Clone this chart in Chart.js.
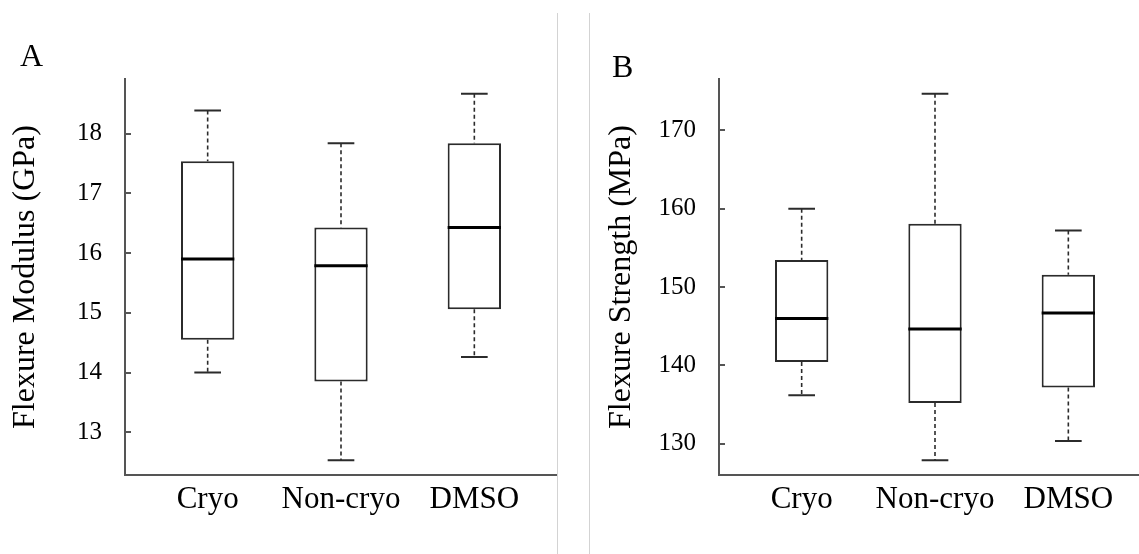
<!DOCTYPE html>
<html>
<head>
<meta charset="utf-8">
<script src="https://cdn.jsdelivr.net/npm/chart.js@4.4.0/dist/chart.umd.min.js"></script>
<style>
html, body { margin: 0; padding: 0; background: #fff; overflow: hidden; width: 1139px; height: 554px; }
.panel { position: absolute; top: 0; }
.tag { position: absolute; font-family: "Liberation Serif", serif; font-size: 32px; line-height: 1; color: #000; }
.sep { position: absolute; top: 13px; width: 1px; height: 541px; background: #d3d3d3; }
</style>
</head>
<body>
<div class="sep" style="left:557px"></div>
<div class="sep" style="left:589px"></div>
<canvas id="chartA" class="panel" style="left:0px" width="557" height="554"></canvas>
<canvas id="chartB" class="panel" style="left:589px" width="562" height="554"></canvas>
<div class="tag" style="left:20px; top:39px">A</div>
<div class="tag" style="left:612px; top:50px">B</div>
<script>
var categories = ['Cryo', 'Non-cryo', 'DMSO'];

// panel A - flexure modulus (GPa)
var modulusTicks = [13, 14, 15, 16, 17, 18];
var modulusLow = [14.0, 12.53, 14.26];
var modulusQ1 = [14.55, 13.85, 15.06];
var modulusMed = [15.9, 15.79, 16.43];
var modulusQ3 = [17.54, 16.43, 17.84];
var modulusHigh = [18.39, 17.84, 18.67];

// panel B - flexure strength (MPa)
var strengthTicks = [130, 140, 150, 160, 170];
var strengthLow = [136.16, 127.86, 130.33];
var strengthQ1 = [140.42, 135.18, 137.15];
var strengthMed = [145.98, 144.63, 146.68];
var strengthQ3 = [153.45, 158.08, 151.57];
var strengthHigh = [160.0, 174.7, 157.23];

Chart.defaults.font.family = '"Liberation Serif", "Times New Roman", serif';
Chart.defaults.color = '#000';

function gap() { return {x: null, y: null}; }

function boxChart(id, low, q1, med, q3, high, yTicks, yTitle, axisWidth, titlePad) {
  var boxes = [], whiskers = [], caps = [], medians = [];
  for (var i = 0; i < categories.length; i++) {
    var c = i + 1;
    boxes.push({x: c, y: [q1[i], q3[i]]});
    whiskers.push({x: c, y: high[i]}, {x: c, y: q3[i]}, gap(), {x: c, y: q1[i]}, {x: c, y: low[i]}, gap());
    caps.push({x: c - 0.1, y: high[i]}, {x: c + 0.1, y: high[i]}, gap(),
              {x: c - 0.1, y: low[i]}, {x: c + 0.1, y: low[i]}, gap());
    medians.push({x: c - 0.2, y: med[i]}, {x: c + 0.2, y: med[i]}, gap());
  }
  // y range like R: data range plus 4% on each side
  var all = low.concat(high);
  var lo = Math.min.apply(null, all), hi = Math.max.apply(null, all);
  var pad = (hi - lo) * 0.04;

  return new Chart(document.getElementById(id), {
    type: 'bar',
    data: {
      datasets: [{
        type: 'line', data: medians, order: 0,
        borderColor: '#000', borderWidth: 3, pointRadius: 0, spanGaps: false
      }, {
        type: 'line', data: caps, order: 1,
        borderColor: '#2b2b2b', borderWidth: 2, pointRadius: 0, spanGaps: false
      }, {
        type: 'line', data: whiskers, order: 2,
        borderColor: '#2b2b2b', borderWidth: 1.6, borderDash: [4, 3], pointRadius: 0, spanGaps: false
      }, {
        type: 'bar', data: boxes, order: 3,
        backgroundColor: '#fff', borderColor: '#2b2b2b', borderWidth: 2, borderSkipped: false,
        barPercentage: 0.4, categoryPercentage: 1
      }]
    },
    options: {
      responsive: false,
      animation: false,
      events: [],
      layout: { padding: { top: 79, left: 0, right: 0, bottom: 0 } },
      plugins: { legend: { display: false }, tooltip: { enabled: false } },
      scales: {
        x: {
          type: 'linear', min: 0.38, max: 3.62, offset: false,
          afterBuildTicks: function(s) {
            s.ticks = categories.map(function(_, i) { return {value: i + 1}; });
          },
          afterFit: function(s) { s.height = 79; },
          grid: { display: false, drawTicks: false },
          border: { display: true, color: '#555', width: 2 },
          ticks: {
            padding: 6, font: { size: 31 }, color: '#000', maxRotation: 0, autoSkip: false,
            callback: function(v) { return categories[Math.round(v) - 1]; }
          }
        },
        y: {
          min: lo - pad, max: hi + pad,
          afterBuildTicks: function(s) {
            s.ticks = yTicks.map(function(v) { return {value: v}; });
          },
          afterFit: function(s) { s.width = axisWidth; },
          grid: { drawOnChartArea: false, tickLength: -6, color: '#555', lineWidth: 2 },
          border: { color: '#555', width: 2 },
          ticks: { padding: 29, font: { size: 25 }, color: '#000' },
          title: {
            display: true, text: yTitle, color: '#000',
            font: { size: 32 }, padding: { top: titlePad, bottom: 0 }
          }
        }
      }
    }
  });
}

boxChart('chartA', modulusLow, modulusQ1, modulusMed, modulusQ3, modulusHigh,
  modulusTicks, 'Flexure Modulus (GPa)', 125, 6);
boxChart('chartB', strengthLow, strengthQ1, strengthMed, strengthQ3, strengthHigh,
  strengthTicks, 'Flexure Strength (MPa)', 130, 13);
</script>
</body>
</html>
